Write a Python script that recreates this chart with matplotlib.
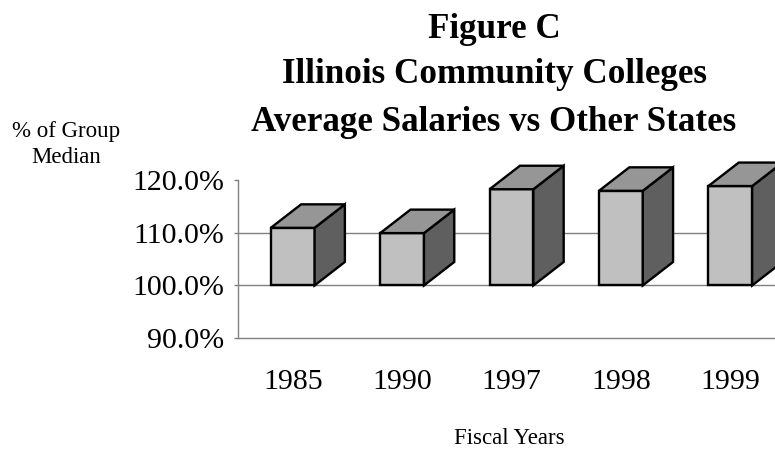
import matplotlib
matplotlib.use('Agg')
import matplotlib.pyplot as plt
from matplotlib.patches import Polygon

# data
years = ['1985', '1990', '1997', '1998', '1999']
pct_of_median = [110.9, 109.9, 118.2, 117.9, 118.8]
base = 100.0
y_ticks = [90, 100, 110, 120]
y_ticklabels = ['90.0%', '100.0%', '110.0%', '120.0%']
title_lines = ['Figure C', 'Illinois Community Colleges', 'Average Salaries vs Other States']
ylabel_lines = ['% of Group', 'Median']
xlabel = 'Fiscal Years'

plt.rcParams['font.family'] = ['Liberation Serif', 'DejaVu Serif']

W, H = 775, 449
fig = plt.figure(figsize=(W / 100, H / 100), dpi=100)
ax = fig.add_axes([238 / W, 1 - 338.3 / H, 547 / W, 158.6 / H])

ax.set_xlim(-0.5, len(years) - 0.5)
ax.set_ylim(90, 120)

# gridlines at 100 and 110 only, like the original
for g in y_ticks[1:3]:
    ax.axhline(g, color='#808080', lw=1.0, zorder=1)

bar_w = 0.40
dx = 0.277   # depth, category units
dy = 4.44    # depth, percent units
front_c = '#c0c0c0'
top_c = '#969696'
side_c = '#5f5f5f'
lw = 1.7

xs = list(range(len(years)))
ax.bar(xs, [v - base for v in pct_of_median], bottom=base, width=bar_w,
       color=front_c, edgecolor='black', linewidth=lw, zorder=3, clip_on=False)

for x, v in zip(xs, pct_of_median):
    l, r = x - bar_w / 2, x + bar_w / 2
    top = Polygon([(l, v), (r, v), (r + dx, v + dy), (l + dx, v + dy)], closed=True,
                  facecolor=top_c, edgecolor='black', linewidth=lw, zorder=3,
                  clip_on=False, joinstyle='miter')
    side = Polygon([(r, base), (r + dx, base + dy), (r + dx, v + dy), (r, v)], closed=True,
                   facecolor=side_c, edgecolor='black', linewidth=lw, zorder=3,
                   clip_on=False, joinstyle='miter')
    ax.add_patch(side)
    ax.add_patch(top)

ax.set_xticks(xs)
ax.set_xticklabels(years, fontsize=21.5)
ax.set_yticks(y_ticks)
ax.set_yticklabels(y_ticklabels, fontsize=21.5)
ax.tick_params(axis='x', length=0, pad=22)
ax.tick_params(axis='y', length=3, width=1.0, color='#808080', pad=7)

for s in ['top', 'right']:
    ax.spines[s].set_visible(False)
for s in ['left', 'bottom']:
    ax.spines[s].set_color('#808080')
    ax.spines[s].set_linewidth(1.0)

# title lines
for line, yb in zip(title_lines, [37.7, 83.3, 131.0]):
    fig.text(494 / W, 1 - yb / H, line, ha='center', va='baseline',
             fontsize=25.2, fontweight='bold')

for line, yb in zip(ylabel_lines, [136.7, 163.3]):
    fig.text(66 / W, 1 - yb / H, line, ha='center', va='baseline', fontsize=16.5)

fig.text(509 / W, 1 - 444 / H, xlabel, ha='center', va='baseline', fontsize=16.5)

fig.savefig('out.png', dpi=100)
